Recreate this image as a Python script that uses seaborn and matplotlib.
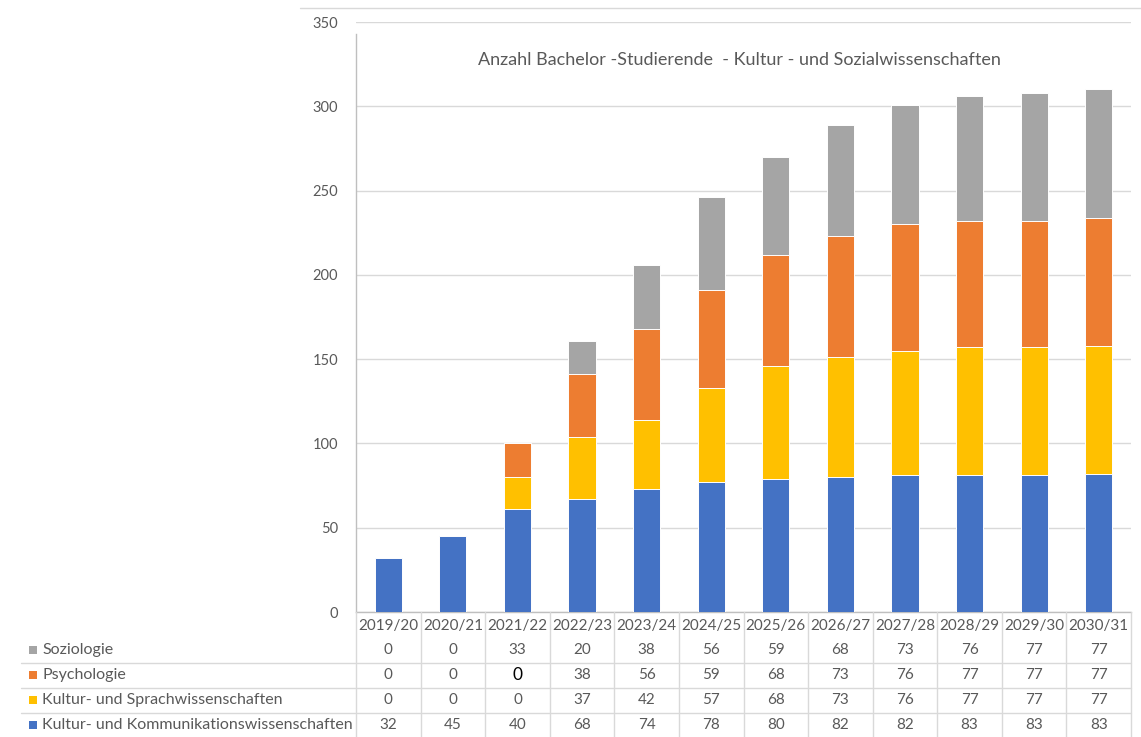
import numpy as np
import pandas as pd
import seaborn as sns
import matplotlib
matplotlib.use("Agg")
import matplotlib.pyplot as plt
from matplotlib.transforms import blended_transform_factory
from matplotlib.lines import Line2D
from matplotlib.patches import Rectangle

# ---------------- data ----------------
years = ["2019/20", "2020/21", "2021/22", "2022/23", "2023/24", "2024/25",
         "2025/26", "2026/27", "2027/28", "2028/29", "2029/30", "2030/31"]
series_names = ["Kultur- und Kommunikationswissenschaften",
                "Kultur- und Sprachwissenschaften",
                "Psychologie", "Soziologie"]
# bar heights as drawn in the chart
kk_vals = [32, 45, 61, 67, 73, 77, 79, 80, 81, 81, 81, 82]
ks_vals = [0, 0, 19, 37, 41, 56, 67, 71, 74, 76, 76, 76]
psy_vals = [0, 0, 20, 37, 54, 58, 66, 72, 75, 75, 75, 76]
soz_vals = [0, 0, 0, 20, 38, 55, 58, 66, 71, 74, 76, 76]
# values printed in the data table below the chart
tab_soz = ["0", "0", "33", "20", "38", "56", "59", "68", "73", "76", "77", "77"]
tab_psy = ["0", "0", "0", "38", "56", "59", "68", "73", "76", "77", "77", "77"]
tab_ks = ["0", "0", "0", "37", "42", "57", "68", "73", "76", "77", "77", "77"]
tab_kk = ["32", "45", "40", "68", "74", "78", "80", "82", "82", "83", "83", "83"]
title = "Anzahl Bachelor -Studierende  - Kultur - und Sozialwissenschaften"
yticks = [0, 50, 100, 150, 200, 250, 300, 350]

c_blue, c_yellow, c_orange, c_grey = "#4472C4", "#FFC000", "#ED7D31", "#A5A5A5"
txt = "#595959"
gridc = "#D9D9D9"

# ---------------- figure ----------------
sns.set_theme(style="white")
plt.rcParams["font.family"] = ["Lato", "DejaVu Sans"]

W, H = 1141, 737
fig = plt.figure(figsize=(W / 100, H / 100), dpi=100)
ax_left, ax_right, ax_bottom, ax_top = 356, 1131, 612, 22
ax = fig.add_axes([ax_left / W, 1 - ax_bottom / H,
                   (ax_right - ax_left) / W, (ax_bottom - ax_top) / H])

kk = np.array(kk_vals)
ks = np.array(ks_vals)
psy = np.array(psy_vals)
soz = np.array(soz_vals)
layers = [
    (kk + ks + psy + soz, c_grey),
    (kk + ks + psy, c_orange),
    (kk + ks, c_yellow),
    (kk, c_blue),
]
for heights, col in layers:
    df = pd.DataFrame({"year": years, "value": heights})
    sns.barplot(data=df, x="year", y="value", order=years, color=col,
                saturation=1, width=0.42, edgecolor="white", linewidth=0.7,
                ax=ax, zorder=3)

ax.set_xlim(-0.5, 11.5)
ax.set_ylim(0, 350)
ax.set_yticks(yticks)
ax.set_yticklabels([str(v) for v in yticks], fontsize=10.5, color=txt)
ax.tick_params(axis="y", length=0, pad=13)
ax.set_xticks([])
ax.set_xlabel("")
ax.set_ylabel("")
ax.yaxis.grid(True, color=gridc, linewidth=1.0, zorder=0)
ax.set_axisbelow(True)
for s in ["top", "right"]:
    ax.spines[s].set_visible(False)
ax.spines["left"].set_color("#BFBFBF")
ax.spines["left"].set_bounds(0, 343)
ax.spines["bottom"].set_color("#BFBFBF")
ax.spines["left"].set_linewidth(1.0)
ax.spines["bottom"].set_linewidth(1.0)

ax.text(0.495, 0.935, title, transform=ax.transAxes, ha="center", va="center",
        fontsize=13, color=txt)

# ---------------- data table ----------------
def fy(p):
    return 1 - p / H

def fx(p):
    return p / W

trans = blended_transform_factory(ax.transData, fig.transFigure)

# header row (category labels)
for i, yr in enumerate(years):
    ax.text(i, fy(626), yr, transform=trans, ha="center", va="center",
            fontsize=11, color=txt, clip_on=False)

rows = [
    ("Soziologie", c_grey, tab_soz, 650),
    ("Psychologie", c_orange, tab_psy, 675),
    ("Kultur- und Sprachwissenschaften", c_yellow, tab_ks, 700),
    ("Kultur- und Kommunikationswissenschaften", c_blue, tab_kk, 725),
]
for name, col, vals, yp in rows:
    fig.text(fx(42), fy(yp), name, ha="left", va="center", fontsize=11.5,
             color=txt)
    fig.add_artist(Rectangle((fx(29), fy(yp + 4)), 8 / W, 8 / H,
                             transform=fig.transFigure, facecolor=col,
                             edgecolor="none"))
    for i, v in enumerate(vals):
        if name == "Psychologie" and i == 2:
            ax.text(i, fy(yp), v, transform=trans, ha="center", va="center",
                    fontsize=12.5, color="black", clip_on=False)
        else:
            ax.text(i, fy(yp), v, transform=trans, ha="center", va="center",
                    fontsize=11, color=txt, clip_on=False)

# table grid lines
for yp in [663, 688, 713]:
    fig.add_artist(Line2D([fx(21), fx(1131)], [fy(yp), fy(yp)],
                          transform=fig.transFigure, color=gridc, linewidth=1))
for k in range(len(years) + 1):
    xb = k - 0.5
    fig.add_artist(Line2D([xb, xb], [fy(612), fy(737)], transform=trans,
                          color=gridc, linewidth=1))

# chart area border top
fig.add_artist(Line2D([fx(300), fx(1141)], [fy(8), fy(8)],
                      transform=fig.transFigure, color=gridc, linewidth=1))

fig.savefig("out.png", dpi=100)
